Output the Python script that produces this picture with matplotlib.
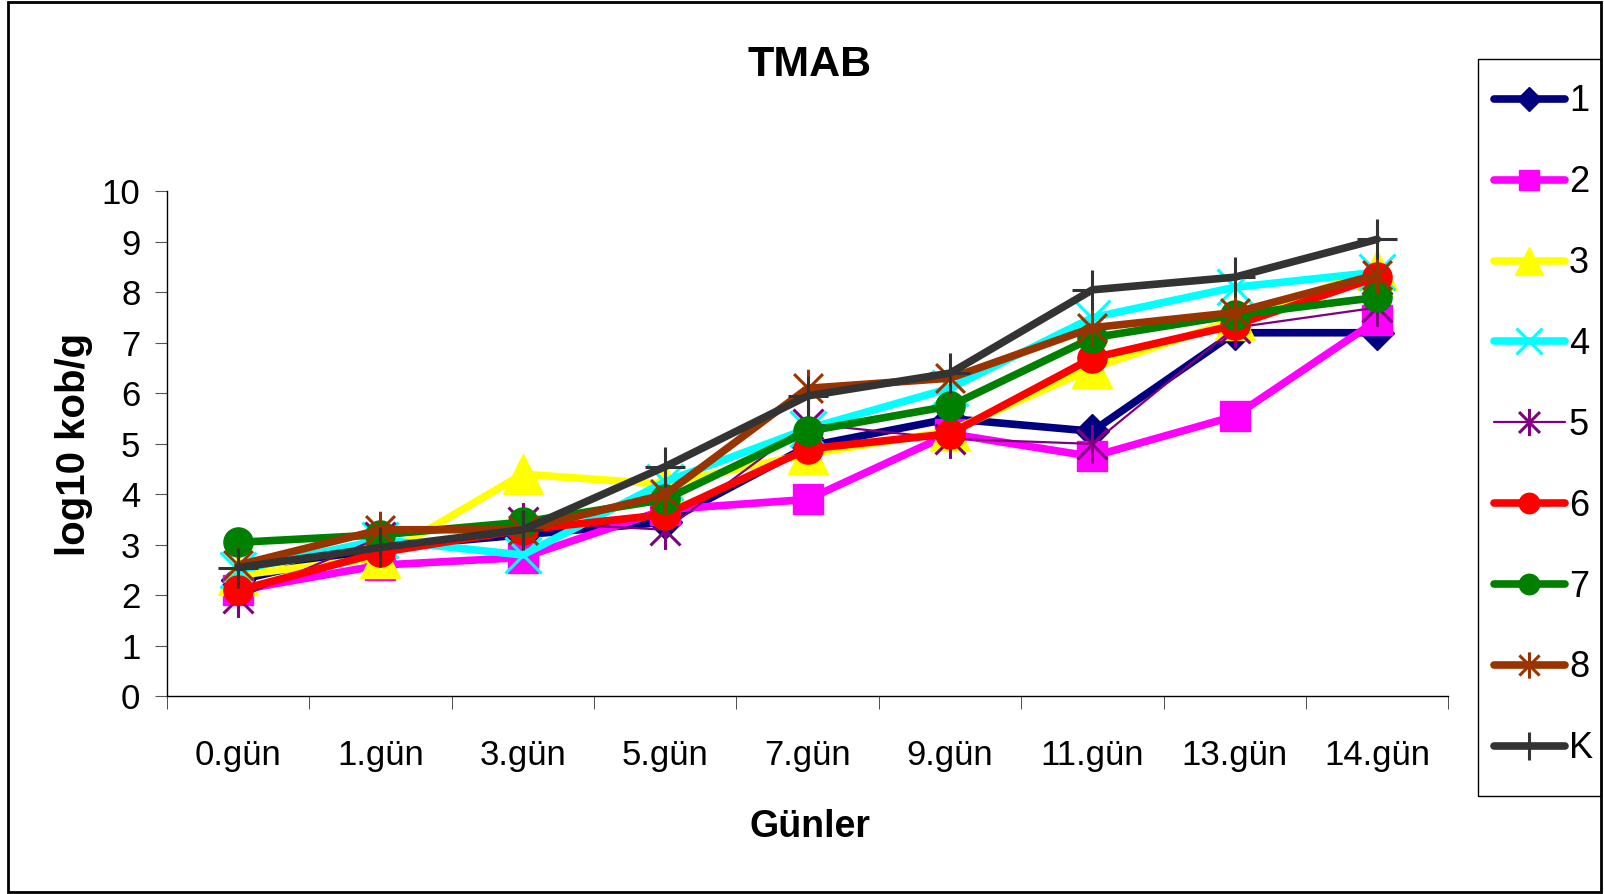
import matplotlib.pyplot as plt
from matplotlib.path import Path
from matplotlib.patches import Rectangle

# data
days = ['0.gün', '1.gün', '3.gün', '5.gün', '7.gün', '9.gün', '11.gün', '13.gün', '14.gün']
s1 = [2.3, 2.95, 3.2, 3.45, 4.95, 5.5, 5.25, 7.2, 7.2]
s2 = [2.1, 2.6, 2.75, 3.7, 3.9, 5.2, 4.75, 5.55, 7.45]
s3 = [2.4, 2.75, 4.4, 4.2, 4.8, 5.25, 6.5, 7.45, 8.45]
s4 = [2.5, 3.1, 2.8, 4.25, 5.3, 6.1, 7.5, 8.1, 8.4]
s5 = [1.95, 3.15, 3.45, 3.3, 5.4, 5.1, 5.0, 7.3, 7.7]
s6 = [2.1, 2.85, 3.3, 3.6, 4.9, 5.2, 6.7, 7.35, 8.3]
s7 = [3.05, 3.2, 3.45, 3.9, 5.25, 5.75, 7.1, 7.55, 7.9]
s8 = [2.6, 3.3, 3.3, 4.0, 6.1, 6.3, 7.3, 7.6, 8.35]
sK = [2.55, 2.95, 3.3, 4.55, 5.95, 6.4, 8.05, 8.3, 9.05]
labels = ['1', '2', '3', '4', '5', '6', '7', '8', 'K']

# excel style star marker: x with a vertical bar
star = Path([(-1, -1), (1, 1), (-1, 1), (1, -1), (0, -1.3), (0, 1.3)],
            [Path.MOVETO, Path.LINETO] * 3)

styles = [
    dict(color='#000080', marker='D', ms=17, lw=5.5),
    dict(color='#FF00FF', marker='s', ms=21, lw=5.5),
    dict(color='#FFFF00', marker='^', ms=29, lw=5.5),
    dict(color='#00FFFF', marker='x', ms=26, lw=5.5, mew=2.2),
    dict(color='#800080', marker=star, ms=28, lw=1.6, mew=2.2),
    dict(color='#FF0000', marker='o', ms=21, lw=5.5),
    dict(color='#008000', marker='o', ms=21, lw=5.5),
    dict(color='#993300', marker=star, ms=27, lw=5.5, mew=2.2),
    dict(color='#333333', marker='+', ms=29, lw=5.5, mew=2.2),
]

font = 'Liberation Sans'

fig = plt.figure(figsize=(16.04, 8.94), dpi=100)
ax = fig.add_axes([0.104, 0.221, 0.799, 0.565])

x = list(range(len(days)))
for vals, lab, st in zip([s1, s2, s3, s4, s5, s6, s7, s8, sK], labels, styles):
    ax.plot(x, vals, label=lab, color=st['color'], marker=st['marker'],
            markersize=st['ms'], linewidth=st['lw'], mew=st.get('mew', 1),
            mec=st['color'], mfc=st['color'], solid_capstyle='round', clip_on=False)

ax.set_xlim(-0.5, len(days) - 0.5)
ax.set_ylim(0, 10)
ax.set_yticks(range(0, 11))
ax.set_xticks(x)
ax.set_xticklabels(days, family=font, fontsize=25)
ax.set_xticks([i - 0.5 for i in range(len(days) + 1)], minor=True)
ax.tick_params(axis='x', which='major', length=0, pad=31)
ax.tick_params(axis='x', which='minor', length=9, direction='out', color='#333333')
ax.tick_params(axis='y', length=9, direction='out', pad=10, color='#555555')
for t in ax.get_yticklabels():
    t.set_family(font)
    t.set_fontsize(25)

for side in ['top', 'right']:
    ax.spines[side].set_visible(False)
for side in ['left', 'bottom']:
    ax.spines[side].set_color('black')
    ax.spines[side].set_linewidth(1)

fig.text(0.505, 0.927, 'TMAB', ha='center', va='center', family=font,
         fontsize=31, fontweight='bold')
fig.text(0.505, 0.075, 'Günler', ha='center', va='center', family=font,
         fontsize=27, fontweight='bold')
fig.text(0.046, 0.503, 'log10 kob/g', ha='center', va='center', rotation=90,
         family=font, fontsize=29, fontweight='bold')

# legend entries without frame, box drawn separately
leg = fig.legend(loc='upper left', bbox_to_anchor=(0.9225, 0.9217), borderaxespad=0,
                 prop={'family': font, 'size': 26}, frameon=False,
                 handlelength=1.95, handletextpad=0.12,
                 borderpad=0.4, labelspacing=1.27, markerscale=0.7)
fig.patches.append(Rectangle((0.9215, 0.110), 0.0765, 0.824, transform=fig.transFigure,
                             fill=False, edgecolor='black', linewidth=1))

fig.patches.append(Rectangle((0.005, 0.002), 0.993, 0.996, transform=fig.transFigure,
                             fill=False, edgecolor='black', linewidth=2))

plt.savefig('out.png', dpi=100)
